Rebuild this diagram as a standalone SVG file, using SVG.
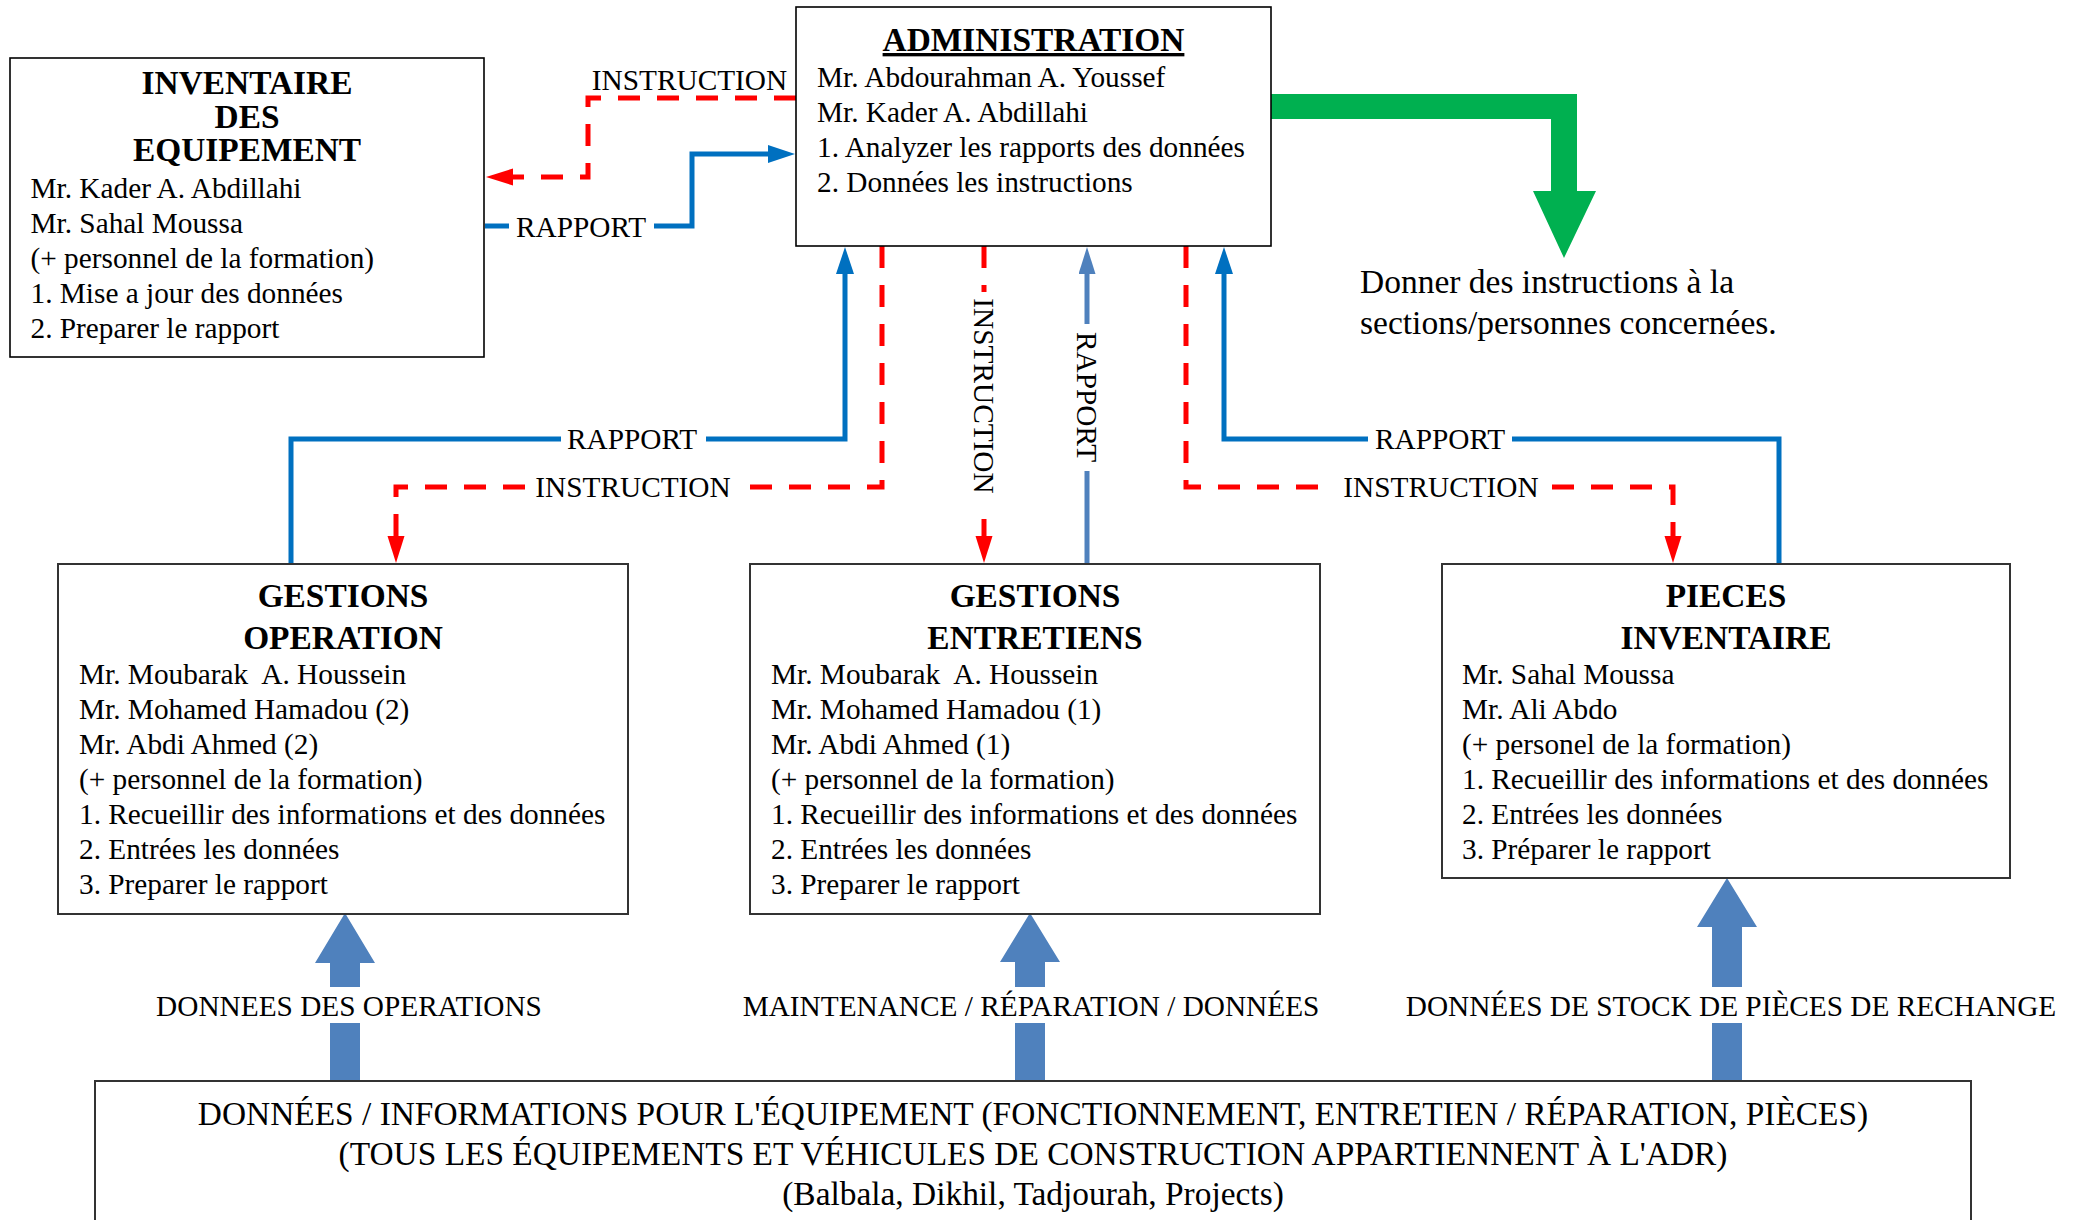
<svg xmlns="http://www.w3.org/2000/svg" width="2080" height="1220" viewBox="0 0 2080 1220">
<defs>
<style>
text{font-family:"Liberation Serif","Times New Roman",serif;fill:#000;white-space:pre}
.t{font-size:33.4px;font-weight:bold;text-anchor:middle}
.b{font-size:29.3px}
.l{font-size:29.3px;text-anchor:middle}
.box{fill:#fff;stroke:#000;stroke-width:1.6}
.box2{fill:#fff;stroke:#333;stroke-width:2}
.blue{fill:none;stroke:#0070C0;stroke-width:5}
.lblue{fill:none;stroke:#4F81BD;stroke-width:5}
.red{fill:none;stroke:#FF0000;stroke-width:5;stroke-dasharray:22 17}
.big{fill:#4F81BD}
.bt{font-size:33.4px;text-anchor:middle}
</style>
<marker id="mb" markerUnits="userSpaceOnUse" markerWidth="30" markerHeight="20" refX="0" refY="9" orient="auto"><path d="M0,0 L27,9 L0,18 Z" fill="#0070C0"/></marker>
<marker id="ml" markerUnits="userSpaceOnUse" markerWidth="30" markerHeight="20" refX="0" refY="8.5" orient="auto"><path d="M0,0 L27,8.5 L0,17 Z" fill="#4F81BD"/></marker>
<marker id="mr" markerUnits="userSpaceOnUse" markerWidth="30" markerHeight="20" refX="0" refY="8.5" orient="auto"><path d="M0,0 L27,8.5 L0,17 Z" fill="#FF0000"/></marker>
</defs>
<rect width="2080" height="1220" fill="#fff"/>

<g id="connectors">
  <!-- Inventaire <-> Administration -->
  <path class="red" d="M796,98 H588 V177 H513" marker-end="url(#mr)"/>
  <path class="blue" d="M485,226 H509"/>
  <path class="blue" d="M654,226 H692 V154 H768" marker-end="url(#mb)"/>
  <text class="l" x="689.5" y="90">INSTRUCTION</text>
  <text class="l" x="581" y="237">RAPPORT</text>

  <!-- Gestions Operation -->
  <path class="blue" d="M291,563 V439 H561"/>
  <path class="blue" d="M706,439 H845 V274" marker-end="url(#mb)"/>
  <text class="l" x="632" y="449">RAPPORT</text>
  <path class="red" d="M882,246 V487 H750"/>
  <path class="red" d="M525,487 H396 V536" marker-end="url(#mr)"/>
  <text class="l" x="633" y="497">INSTRUCTION</text>

  <!-- Gestions Entretiens -->
  <path class="red" d="M984,246 V292"/>
  <path class="red" d="M984,519 V536" style="stroke-dasharray:none" marker-end="url(#mr)"/>
  <text class="l" x="984" y="396" transform="rotate(90 984 396)" dominant-baseline="central">INSTRUCTION</text>
  <path class="lblue" d="M1087,563 V471"/>
  <path class="lblue" d="M1087,324 V274" marker-end="url(#ml)"/>
  <text class="l" x="1087" y="397" transform="rotate(90 1087 397)" dominant-baseline="central">RAPPORT</text>

  <!-- Pieces Inventaire -->
  <path class="blue" d="M1779,563 V439 H1512"/>
  <path class="blue" d="M1368,439 H1224 V274" marker-end="url(#mb)"/>
  <text class="l" x="1440" y="449">RAPPORT</text>
  <path class="red" d="M1186,246 V487 H1318"/>
  <path class="red" d="M1552,487 H1673 V536" marker-end="url(#mr)"/>
  <text class="l" x="1441" y="497">INSTRUCTION</text>

  <!-- Green arrow -->
  <polygon points="1271,94 1577,94 1577,191 1596,191 1564,258 1533,191 1551,191 1551,119 1271,119" fill="#00B050"/>

  <!-- Big data arrows -->
  <polygon class="big" points="330,987 330,963 315,963 345,913 375,963 360,963 360,987"/>
  <rect class="big" x="330" y="1023" width="30" height="57"/>
  <text class="l" x="349" y="1016">DONNEES DES OPERATIONS</text>
  <polygon class="big" points="1015,987 1015,962 1000,962 1030,913 1060,962 1045,962 1045,987"/>
  <rect class="big" x="1015" y="1023" width="30" height="57"/>
  <text class="l" x="1031" y="1016">MAINTENANCE / RÉPARATION / DONNÉES</text>
  <polygon class="big" points="1712,987 1712,927 1697,927 1727,878 1757,927 1742,927 1742,987"/>
  <rect class="big" x="1712" y="1023" width="30" height="57"/>
  <text class="l" x="1731" y="1016">DONNÉES DE STOCK DE PIÈCES DE RECHANGE</text>
</g>

<g id="inventaire">
  <rect class="box" x="10" y="58" width="474" height="299"/>
  <text class="t" x="247" y="94">INVENTAIRE</text>
  <text class="t" x="247" y="128">DES</text>
  <text class="t" x="247" y="161">EQUIPEMENT</text>
  <text class="b" x="30.5" y="198">Mr. Kader A. Abdillahi</text>
  <text class="b" x="30.5" y="233">Mr. Sahal Moussa</text>
  <text class="b" x="30.5" y="268">(+ personnel de la formation)</text>
  <text class="b" x="30.5" y="303">1. Mise a jour des données</text>
  <text class="b" x="30.5" y="338">2. Preparer le rapport</text>
</g>

<g id="administration">
  <rect class="box" x="796" y="7" width="475" height="239"/>
  <text class="t" x="1033.5" y="51" text-decoration="underline">ADMINISTRATION</text>
  <text class="b" x="817" y="87">Mr. Abdourahman A. Youssef</text>
  <text class="b" x="817" y="122">Mr. Kader A. Abdillahi</text>
  <text class="b" x="817" y="157">1. Analyzer les rapports des données</text>
  <text class="b" x="817" y="192">2. Données les instructions</text>
</g>

<g id="note">
  <text x="1360" y="293" style="font-size:33.5px">Donner des instructions à la</text>
  <text x="1360" y="334" style="font-size:33.5px">sections/personnes concernées.</text>
</g>

<g id="gestions-operation">
  <rect class="box2" x="58" y="564" width="570" height="350"/>
  <text class="t" x="343" y="607">GESTIONS</text>
  <text class="t" x="343" y="649">OPERATION</text>
  <text class="b" x="79" y="684">Mr. Moubarak  A. Houssein</text>
  <text class="b" x="79" y="719">Mr. Mohamed Hamadou (2)</text>
  <text class="b" x="79" y="754">Mr. Abdi Ahmed (2)</text>
  <text class="b" x="79" y="789">(+ personnel de la formation)</text>
  <text class="b" x="79" y="824">1. Recueillir des informations et des données</text>
  <text class="b" x="79" y="859">2. Entrées les données</text>
  <text class="b" x="79" y="894">3. Preparer le rapport</text>
</g>

<g id="gestions-entretiens">
  <rect class="box2" x="750" y="564" width="570" height="350"/>
  <text class="t" x="1035" y="607">GESTIONS</text>
  <text class="t" x="1035" y="649">ENTRETIENS</text>
  <text class="b" x="771" y="684">Mr. Moubarak  A. Houssein</text>
  <text class="b" x="771" y="719">Mr. Mohamed Hamadou (1)</text>
  <text class="b" x="771" y="754">Mr. Abdi Ahmed (1)</text>
  <text class="b" x="771" y="789">(+ personnel de la formation)</text>
  <text class="b" x="771" y="824">1. Recueillir des informations et des données</text>
  <text class="b" x="771" y="859">2. Entrées les données</text>
  <text class="b" x="771" y="894">3. Preparer le rapport</text>
</g>

<g id="pieces-inventaire">
  <rect class="box2" x="1442" y="564" width="568" height="314"/>
  <text class="t" x="1726" y="607">PIECES</text>
  <text class="t" x="1726" y="649">INVENTAIRE</text>
  <text class="b" x="1462" y="684">Mr. Sahal Moussa</text>
  <text class="b" x="1462" y="719">Mr. Ali Abdo</text>
  <text class="b" x="1462" y="754">(+ personel de la formation)</text>
  <text class="b" x="1462" y="789">1. Recueillir des informations et des données</text>
  <text class="b" x="1462" y="824">2. Entrées les données</text>
  <text class="b" x="1462" y="859">3. Préparer le rapport</text>
</g>

<g id="donnees-equipement">
  <rect class="box2" x="95" y="1081" width="1876" height="170"/>
  <text class="bt" x="1033" y="1125">DONNÉES / INFORMATIONS POUR L'ÉQUIPEMENT (FONCTIONNEMENT, ENTRETIEN / RÉPARATION, PIÈCES)</text>
  <text class="bt" x="1033" y="1165">(TOUS LES ÉQUIPEMENTS ET VÉHICULES DE CONSTRUCTION APPARTIENNENT À L'ADR)</text>
  <text class="bt" x="1033" y="1205">(Balbala, Dikhil, Tadjourah, Projects)</text>
</g>
</svg>
